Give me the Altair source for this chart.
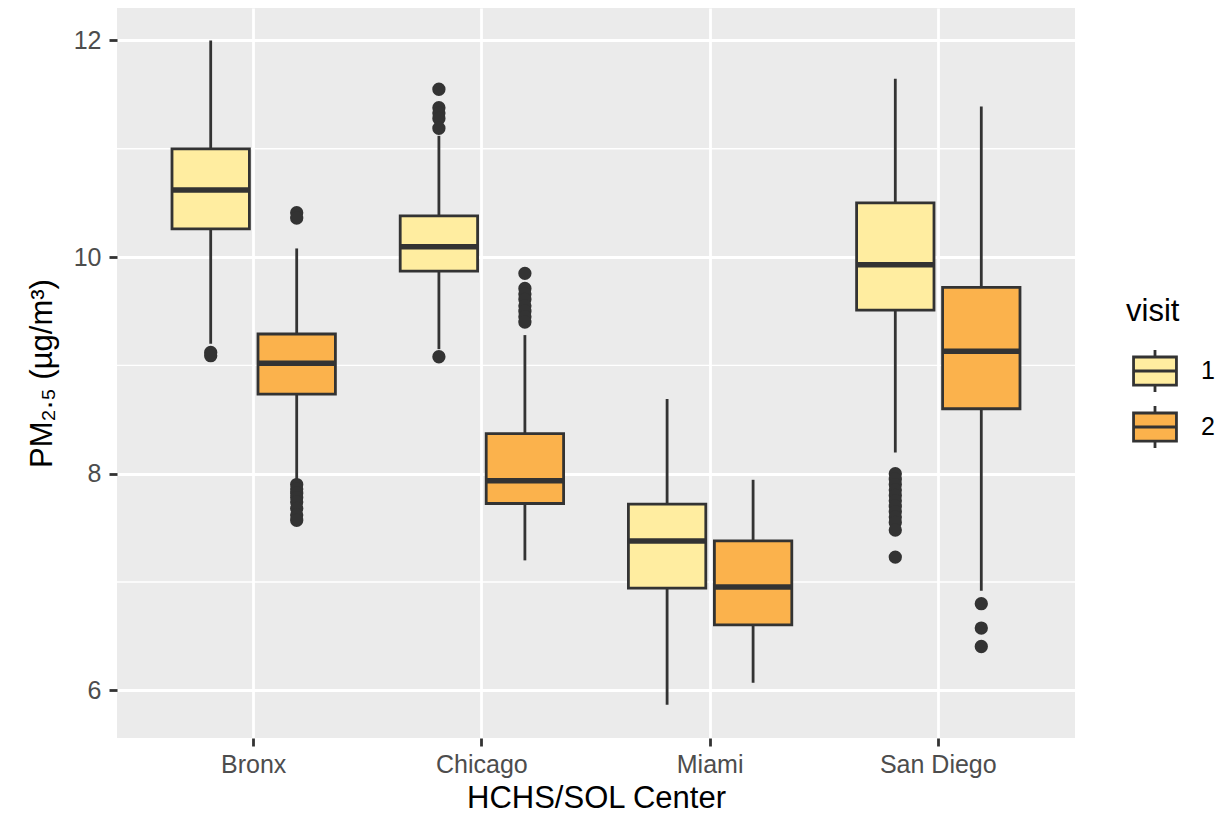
import altair as alt
import pandas as pd

# ---- data ----
center_names = ["Bronx", "Chicago", "Miami", "San Diego"]
visit_levels = ["1", "2"]

box_center = ["Bronx", "Bronx", "Chicago", "Chicago", "Miami", "Miami", "San Diego", "San Diego"]
box_visit = ["1", "2", "1", "2", "1", "2", "1", "2"]
whisker_low = [9.20, 7.935, 9.15, 7.20, 5.866, 6.07, 8.195, 6.92]
q1 = [10.26, 8.735, 9.87, 7.725, 6.944, 6.605, 9.51, 8.60]
median = [10.62, 9.02, 10.095, 7.935, 7.38, 6.955, 9.93, 9.13]
q3 = [11.00, 9.29, 10.38, 8.37, 7.72, 7.38, 10.50, 9.72]
whisker_high = [12.00, 10.08, 11.12, 9.28, 8.69, 7.944, 11.647, 11.39]

bronx_1_outliers = [9.12, 9.09]
bronx_2_outliers = [10.41, 10.36, 7.90, 7.86, 7.82, 7.78, 7.74, 7.68, 7.62, 7.57]
chicago_1_outliers = [11.55, 11.38, 11.33, 11.28, 11.19, 9.08]
chicago_2_outliers = [9.85, 9.71, 9.66, 9.61, 9.55, 9.50, 9.45, 9.40]
miami_1_outliers = []
miami_2_outliers = []
sandiego_1_outliers = [8.00, 7.95, 7.90, 7.85, 7.80, 7.75, 7.70, 7.65, 7.60, 7.55, 7.48, 7.23]
sandiego_2_outliers = [6.80, 6.575, 6.405]

major_breaks = [6, 8, 10, 12]
minor_breaks = [7, 9, 11]

# ---- tables ----
stats = pd.DataFrame({
    "center": box_center, "visit": box_visit,
    "lo": whisker_low, "q1": q1, "med": median, "q3": q3, "hi": whisker_high,
})

out_groups = [
    ("Bronx", "1", bronx_1_outliers), ("Bronx", "2", bronx_2_outliers),
    ("Chicago", "1", chicago_1_outliers), ("Chicago", "2", chicago_2_outliers),
    ("Miami", "1", miami_1_outliers), ("Miami", "2", miami_2_outliers),
    ("San Diego", "1", sandiego_1_outliers), ("San Diego", "2", sandiego_2_outliers),
]
out_rows = [{"center": c, "visit": v, "value": val} for c, v, vals in out_groups for val in vals]
outliers = pd.DataFrame(out_rows)
minor_df = pd.DataFrame({"value": minor_breaks})

FONT = "Liberation Sans"
DARK = "#333333"
LW = 2.8

x_scale = alt.Scale(domain=center_names, paddingInner=0.2463, paddingOuter=0.2222)
xo_scale = alt.Scale(domain=visit_levels, paddingInner=0.1, paddingOuter=0.05)
y_scale = alt.Scale(domain=[5.56, 12.30], nice=False, zero=False)

x_axis = alt.Axis(title="HCHS/SOL Center", labelAngle=0, grid=True, ticks=True,
                  titleY=69, titleBaseline="alphabetic", bandPosition=0.5, labelPadding=6)
y_axis = alt.Axis(title="PM\u2082.\u2085 (\u00b5g/m\u00b3)", values=major_breaks, format="d",
                  grid=True, titleX=-66, titleY=365, titleAngle=270,
                  titleAlign="center", titleBaseline="alphabetic", labelPadding=8)

X = alt.X("center:N", scale=x_scale, axis=x_axis)
XO = alt.XOffset("visit:N", scale=xo_scale)

minor = alt.Chart(minor_df).mark_rule(color="white", strokeWidth=1.4).encode(
    y=alt.Y("value:Q", scale=y_scale, axis=y_axis)
)

whisker = alt.Chart(stats).mark_rule(color=DARK, strokeWidth=LW).encode(
    x=X, xOffset=XO,
    y=alt.Y("lo:Q", scale=y_scale, axis=y_axis),
    y2="hi:Q",
)

box = alt.Chart(stats).mark_bar(stroke=DARK, strokeWidth=LW, opacity=1).encode(
    x=X, xOffset=XO,
    y=alt.Y("q1:Q", scale=y_scale, axis=y_axis),
    y2="q3:Q",
    fill=alt.Fill("visit:N",
                  scale=alt.Scale(domain=visit_levels, range=["#FFEDA0", "#FBB24C"]),
                  legend=alt.Legend(
                      title="visit", orient="none", legendX=1009, legendY=289,
                      symbolType="M-0.78,-0.51H0.78V0.51H-0.78Z M-0.78,0H0.78 M0,-0.51V-0.76 M0,0.51V0.76",
                      symbolSize=3025, symbolStrokeColor=DARK, symbolStrokeWidth=LW,
                      symbolOpacity=1, rowPadding=0, titlePadding=14, labelOffset=17,
                  )),
)

med = alt.Chart(stats).mark_tick(color=DARK, size=77.4, thickness=5.5, opacity=1).encode(
    x=X, xOffset=XO,
    y=alt.Y("med:Q", scale=y_scale, axis=y_axis),
)

pts = alt.Chart(outliers).mark_circle(color=DARK, size=177, opacity=1).encode(
    x=X, xOffset=XO,
    y=alt.Y("value:Q", scale=y_scale, axis=y_axis),
)

chart = alt.layer(minor, whisker, box, med, pts).properties(
    width=958, height=730,
    autosize=alt.AutoSizeParams(type="none"),
    padding={"left": 109, "top": 0, "right": 140, "bottom": 76},
    background="white",
).configure_view(
    fill="#EBEBEB", stroke=None
).configure_axis(
    domain=False,
    labelFont=FONT, labelFontSize=25, labelColor="#4D4D4D",
    tickColor=DARK, tickSize=8, tickWidth=LW,
    gridColor="white", gridWidth=LW, gridOpacity=1,
    titleFont=FONT, titleFontSize=31, titleFontWeight="normal", titleColor="black",
).configure_legend(
    titleFont=FONT, titleFontSize=31, titleFontWeight="normal", titleColor="black",
    labelFont=FONT, labelFontSize=25, labelColor="black",
)

chart.save("out.html", embed_options={"renderer": "svg", "actions": False})
